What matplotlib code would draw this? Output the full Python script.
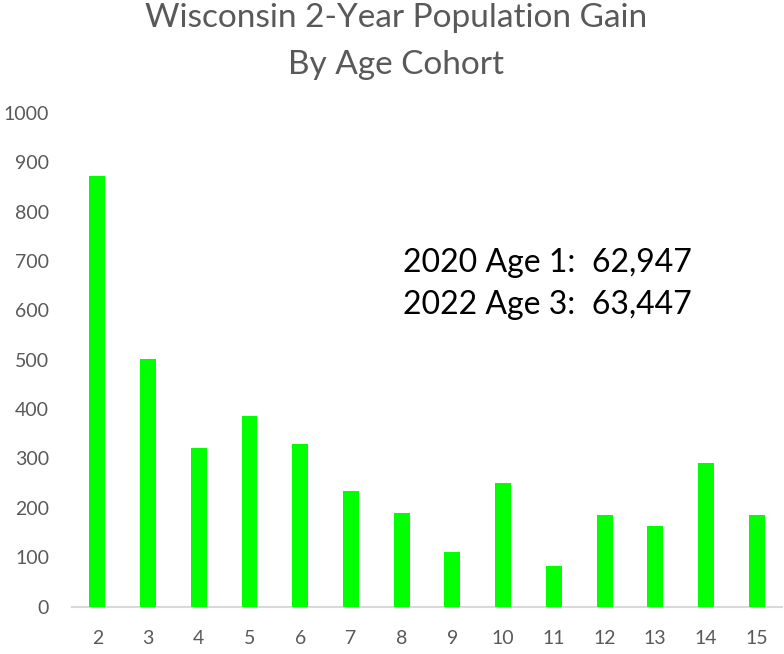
import matplotlib
matplotlib.use("Agg")
import matplotlib.pyplot as plt

ages = ["2", "3", "4", "5", "6", "7", "8", "9", "10", "11", "12", "13", "14", "15"]
gain = [872, 501, 321, 386, 330, 235, 189, 110, 251, 82, 185, 163, 291, 185]
yticks = [0, 100, 200, 300, 400, 500, 600, 700, 800, 900, 1000]
title = "Wisconsin 2-Year Population Gain\nBy Age Cohort"
note = "2020 Age 1:  62,947\n2022 Age 3:  63,447"

plt.rcParams['font.family'] = ['Lato', 'DejaVu Sans']

fig = plt.figure(figsize=(7.84, 6.54), dpi=100)
ax = fig.add_axes([0.0918, 0.0726, 0.9057, 0.7546])

x = list(range(len(ages)))
ax.bar(x, gain, width=0.315, color="#00ff00", zorder=3)
ax.set_xlim(-0.5, len(ages) - 0.5)
ax.set_ylim(0, 1000)
ax.set_xticks(x)
ax.set_xticklabels(ages)
ax.set_yticks(yticks)
ax.tick_params(axis='both', length=0, labelsize=14, colors="#595959")
ax.tick_params(axis='x', pad=17)
ax.tick_params(axis='y', pad=16.5)
for s in ["top", "right", "left"]:
    ax.spines[s].set_visible(False)
ax.spines["bottom"].set_color("#d9d9d9")
ax.spines["bottom"].set_linewidth(1.5)

fig.text(396 / 784, 1 - 3 / 654, title, ha="center", va="top", fontsize=24, color="#595959",
         linespacing=1.72)
fig.text(403 / 784, 1 - 248 / 654, note, ha="left", va="top", fontsize=23,
         color="black", linespacing=1.51)

fig.savefig("out.png", dpi=100)
